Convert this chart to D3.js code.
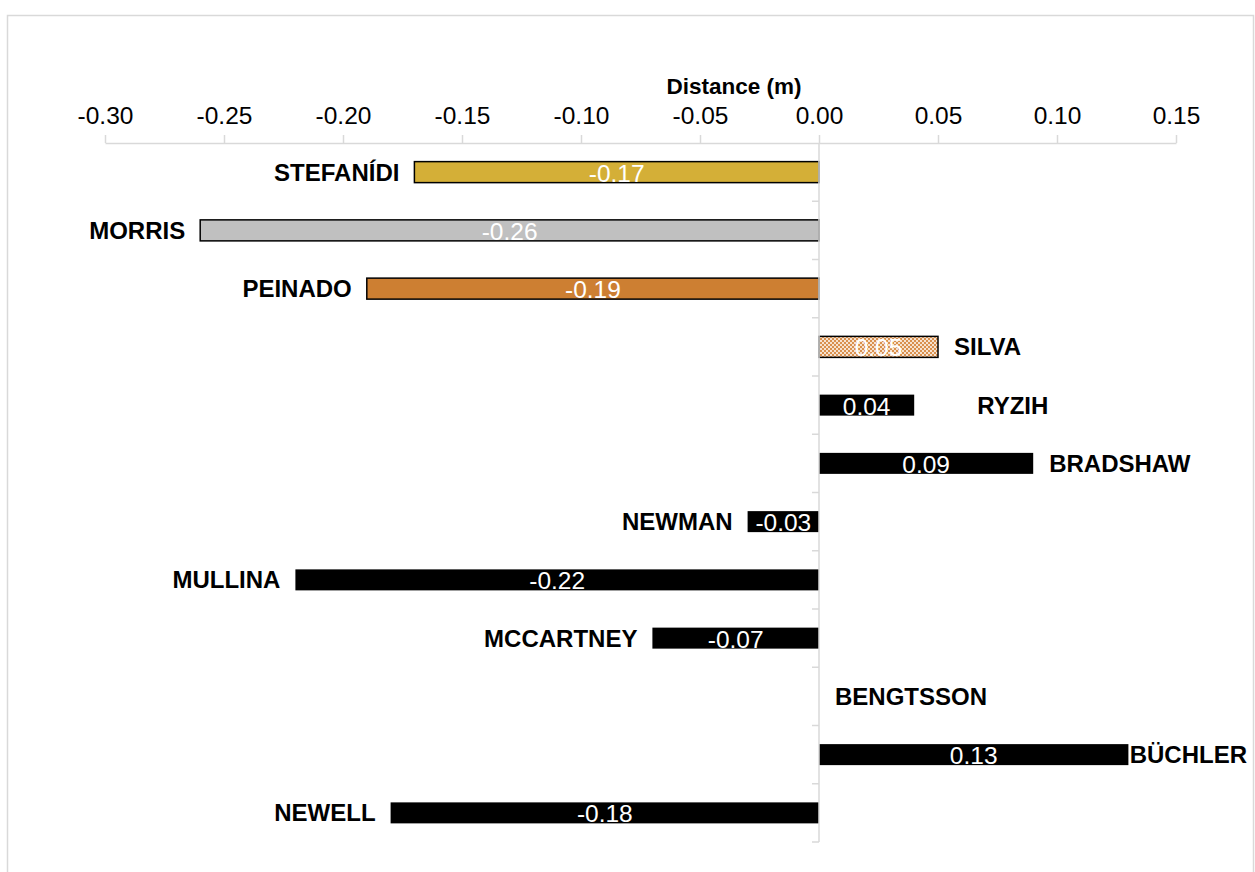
<!DOCTYPE html>
<html>
<head>
<meta charset="utf-8">
<script src="https://cdn.jsdelivr.net/npm/d3@7/dist/d3.min.js"></script>
<style>
  html, body { margin: 0; padding: 0; background: #fff; }
  svg { display: block; font-family: "Liberation Sans", Arial, sans-serif; }
</style>
</head>
<body>
<svg id="chart" width="1255" height="872"></svg>
<script>
const categories = ["STEFANÍDI", "MORRIS", "PEINADO", "SILVA", "RYZIH", "BRADSHAW",
                    "NEWMAN", "MULLINA", "MCCARTNEY", "BENGTSSON", "BÜCHLER", "NEWELL"];
const distances = [-0.17, -0.26, -0.19, 0.05, 0.04, 0.09, -0.03, -0.22, -0.07, 0, 0.13, -0.18];
const valueLabels = ["-0.17", "-0.26", "-0.19", "0.05", "0.04", "0.09", "-0.03", "-0.22", "-0.07", "", "0.13", "-0.18"];
const xTicks = [-0.30, -0.25, -0.20, -0.15, -0.10, -0.05, 0.00, 0.05, 0.10, 0.15];
const xTickLabels = ["-0.30", "-0.25", "-0.20", "-0.15", "-0.10", "-0.05", "0.00", "0.05", "0.10", "0.15"];
const axisTitle = "Distance (m)";

const svg = d3.select("#chart");

// pattern for SILVA
const defs = svg.append("defs");
const pat = defs.append("pattern").attr("id", "dots").attr("patternUnits", "userSpaceOnUse")
  .attr("width", 4).attr("height", 4);
pat.append("rect").attr("width", 4).attr("height", 4).attr("fill", "#D9904E");
pat.append("rect").attr("x", 0).attr("y", 0).attr("width", 2).attr("height", 2).attr("fill", "#F6E2CF");
pat.append("rect").attr("x", 2).attr("y", 2).attr("width", 2).attr("height", 2).attr("fill", "#F6E2CF");

const fills = {
  "STEFANÍDI": "#D4AF37",
  "MORRIS": "#C0C0C0",
  "PEINADO": "#CD7F32",
  "SILVA": "url(#dots)"
};
const stroked = new Set(["STEFANÍDI", "MORRIS", "PEINADO", "SILVA"]);

// outer border
svg.append("rect").attr("x", 7.5).attr("y", 15.5).attr("width", 1246).attr("height", 880)
  .attr("fill", "#fff").attr("stroke", "#d9d9d9").attr("stroke-width", 1.5);

const x = d3.scaleLinear().domain([-0.30, 0.15]).range([105, 1176]);
const y = d3.scaleBand().domain(categories).range([143, 842]).paddingInner(0.64).paddingOuter(0.32);

// top axis
const xAxis = d3.axisTop(x).tickValues(xTicks).tickFormat((d, i) => xTickLabels[i])
  .tickSizeInner(8).tickSizeOuter(0).tickPadding(11);
const gx = svg.append("g").attr("transform", "translate(0,143)").call(xAxis);
gx.select(".domain").attr("stroke", "#d9d9d9").attr("stroke-width", 1.5);
gx.selectAll(".tick line").attr("stroke", "#d9d9d9").attr("stroke-width", 1.5);
gx.selectAll(".tick text").attr("font-size", 24.5).attr("fill", "#000")
  .attr("font-family", "'Liberation Sans', Arial, sans-serif");

svg.append("text").attr("x", 734).attr("y", 94).attr("text-anchor", "middle")
  .attr("font-size", 22.5).attr("font-weight", "bold").text(axisTitle);

// bars
const bandH = y.step();
const barH = 21;
const g = svg.append("g");
categories.forEach((c, i) => {
  const v = distances[i];
  const cy = y(c) + y.bandwidth() / 2;
  if (v !== 0) {
    g.append("rect")
      .attr("x", x(Math.min(0, v)))
      .attr("y", cy - barH / 2)
      .attr("width", Math.abs(x(v) - x(0)))
      .attr("height", barH)
      .attr("fill", fills[c] || "#000")
      .attr("stroke", stroked.has(c) ? "#000" : "none")
      .attr("stroke-width", 1.5);
    g.append("text")
      .attr("x", (x(v) + x(0)) / 2)
      .attr("y", cy + 9.5)
      .attr("text-anchor", "middle")
      .attr("font-size", 24.5)
      .attr("fill", "#fff")
      .text(valueLabels[i]);
  }
});

// y axis
const yLine = svg.append("g");
yLine.append("line").attr("x1", x(0)).attr("x2", x(0)).attr("y1", 143).attr("y2", 842)
  .attr("stroke", "#d9d9d9").attr("stroke-width", 1.5);
for (let k = 1; k <= categories.length; k++) {
  const yy = 143 + k * bandH;
  yLine.append("line").attr("x1", x(0) - 7).attr("x2", x(0)).attr("y1", yy).attr("y2", yy)
    .attr("stroke", "#d9d9d9").attr("stroke-width", 1.5);
}

// name labels
const nudge = { "RYZIH": 47 };
const rightLimit = 1247;
categories.forEach((c, i) => {
  const v = distances[i];
  const cy = y(c) + y.bandwidth() / 2;
  const t = svg.append("text")
    .attr("y", cy + 8.6)
    .attr("font-size", 24)
    .attr("font-weight", "bold")
    .text(c);
  if (v < 0) {
    t.attr("x", x(v) - 15).attr("text-anchor", "end");
  } else {
    const w = t.node().getComputedTextLength();
    let xx = x(v) + 16 + (nudge[c] || 0);
    if (xx + w > rightLimit) xx = rightLimit - w;
    t.attr("x", xx).attr("text-anchor", "start");
  }
});
</script>
</body>
</html>
